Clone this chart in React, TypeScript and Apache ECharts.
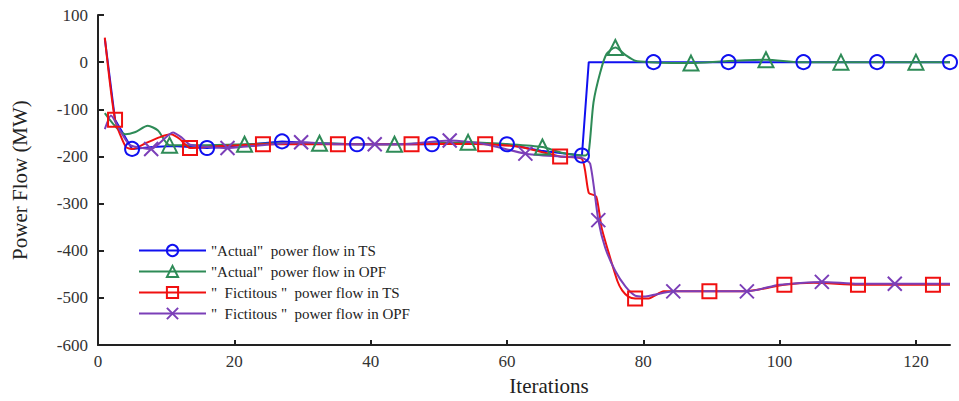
import React, { useEffect, useRef } from "react";
import * as echarts from "echarts";

const xTicks = [0, 20, 40, 60, 80, 100, 120];

const seriesNames = [
  '"Actual"  power flow in TS',
  '"Actual"  power flow in OPF',
  '"  Fictitous "  power flow in TS',
  '"  Fictitous "  power flow in OPF',
];

const iterActualTS = [1, 2.5, 5, 8, 11, 16, 21, 27, 32, 38, 43, 49, 54, 60, 65, 71, 72, 81.5, 92.5, 103.5, 114.3, 125];
const valActualTS = [50, -122, -184, -180, -178, -182, -176, -168, -172, -174, -174, -174, -172, -174, -188, -198, 0, 0, 0, 0, 0, 0];
const markActualTS = [5, 16, 27, 38, 49, 60, 71, 81.5, 92.5, 103.5, 114.3, 125];

const iterActualOPF = [1, 4, 5.5, 7.3, 8.8, 10.5, 15, 21.5, 27, 32.5, 38, 43.5, 49, 54.3, 60, 65.2, 68, 71.5, 72, 72.7, 73.7, 74.6, 75.9, 77.4, 78.8, 81, 87, 92, 98, 103, 109, 114, 120, 125];
const valActualOPF = [-108, -153, -148, -135, -145, -176, -176, -174, -172, -172, -174, -174, -172, -170, -174, -180, -192, -198, -190, -85, -21, 17, 31, 15, 3, 0, -2, 2, 5, 0, 0, 0, 0, 0];
const markActualOPF = [10.5, 21.5, 32.5, 43.5, 54.3, 65.2, 75.9, 87, 98, 109, 120];

const iterFictTS = [1, 2.5, 4.1, 5.1, 7, 9.1, 10.7, 12, 13.5, 18, 24.2, 30, 35.2, 40, 46, 51, 56.8, 62, 67.8, 71, 72, 73.1, 73.9, 75, 76.2, 76.9, 77.8, 78.8, 80.8, 83, 89.7, 95, 100.7, 105, 111.5, 117, 122.5, 125];
const valFictTS = [52, -122, -180, -184, -172, -159, -153, -163, -182, -178, -174, -174, -174, -174, -174, -173, -174, -180, -200, -205, -277, -285, -352, -408, -464, -484, -497, -501, -501, -486, -486, -486, -472, -468, -472, -472, -472, -472];
const markFictTS = [2.5, 13.5, 24.2, 35.2, 46, 56.8, 67.8, 78.8, 89.7, 100.7, 111.5, 122.5];

const iterFictOPF = [1, 1.9, 3.4, 4.7, 7.8, 11, 12.2, 13.5, 19, 24, 29.8, 35, 40.6, 46, 51.6, 56.8, 62.7, 67.8, 71, 72.2, 73.4, 74.4, 75.9, 77.4, 78.8, 80, 84.4, 90, 95.2, 100, 106.2, 111.5, 116.9, 125];
const valFictOPF = [-142, -113, -149, -176, -184, -149, -159, -175, -182, -176, -170, -174, -174, -173, -166, -174, -194, -200, -203, -215, -335, -393, -443, -476, -495, -497, -486, -486, -486, -472, -466, -470, -470, -470];
const markFictOPF = [7.8, 19, 29.8, 40.6, 51.6, 62.7, 73.4, 84.4, 95.2, 106.2, 116.9];

const FONT = "Liberation Serif";

function buildData(iters: number[], vals: number[], marks: number[]) {
  return iters.map((x, i) =>
    marks.includes(x) ? { value: [x, vals[i]] } : { value: [x, vals[i]], symbol: "none" }
  );
}

function makeSeries(
  name: string,
  color: string,
  symbol: string,
  symbolSize: number,
  smooth: number | boolean,
  iters: number[],
  vals: number[],
  marks: number[]
) {
  return {
    type: "line",
    name,
    color,
    symbol,
    symbolSize,
    smooth,
    showAllSymbol: true,
    lineStyle: { color, width: 2 },
    itemStyle: { color: "rgba(0,0,0,0)", borderColor: color, borderWidth: 2 },
    data: buildData(iters, vals, marks),
  };
}

export default function App() {
  const ref = useRef<HTMLDivElement>(null);
  useEffect(() => {
    if (!ref.current) return;
    const chart = echarts.init(ref.current, undefined, { renderer: "svg" });
    chart.setOption({
      animation: false,
      backgroundColor: "#ffffff",
      grid: { left: 98, right: 9, top: 15, bottom: 48, containLabel: false },
      legend: {
        orient: "vertical",
        left: 133,
        top: 238,
        itemWidth: 67,
        itemHeight: 14,
        itemGap: 6,
        textStyle: { fontFamily: FONT, fontSize: 15, color: "#222" },
        data: seriesNames,
      },
      xAxis: {
        type: "value",
        min: 0,
        max: 125,
        name: "Iterations",
        nameLocation: "middle",
        nameGap: 21,
        nameTextStyle: { fontFamily: FONT, fontSize: 21, color: "#222", padding: [0, 0, 0, 50] },
        axisLine: { show: true, onZero: false, lineStyle: { color: "#222", width: 2 } },
        axisTick: { show: true, inside: true, length: 5, customValues: xTicks, lineStyle: { color: "#222", width: 2 } },
        axisLabel: { customValues: xTicks, fontFamily: FONT, fontSize: 17, color: "#333", margin: 8 },
        splitLine: { show: false },
      },
      yAxis: {
        type: "value",
        min: -600,
        max: 100,
        interval: 100,
        name: "Power Flow (MW)",
        nameLocation: "middle",
        nameGap: 68,
        nameTextStyle: { fontFamily: FONT, fontSize: 21, color: "#222" },
        axisLine: { show: true, lineStyle: { color: "#222", width: 2 } },
        axisTick: { show: true, inside: true, length: 6, lineStyle: { color: "#222", width: 2 } },
        axisLabel: { fontFamily: FONT, fontSize: 17, color: "#333", margin: 10 },
        splitLine: { show: false },
      },
      series: [
        makeSeries(seriesNames[0], "#1010f0", "circle", 14, false, iterActualTS, valActualTS, markActualTS),
        makeSeries(seriesNames[1], "#2e8b57", "triangle", 15, 0.25, iterActualOPF, valActualOPF, markActualOPF),
        makeSeries(seriesNames[2], "#f01010", "rect", 14, 0.2, iterFictTS, valFictTS, markFictTS),
        makeSeries(seriesNames[3], "#7b3fb8", "path://M0,0L10,10M10,0L0,10", 14, 0.2, iterFictOPF, valFictOPF, markFictOPF),
      ],
    });
    return () => chart.dispose();
  }, []);
  return (
    <div
      ref={ref}
      style={{ position: "fixed", left: 0, top: 0, width: 959, height: 401, background: "#fff" }}
    />
  );
}
